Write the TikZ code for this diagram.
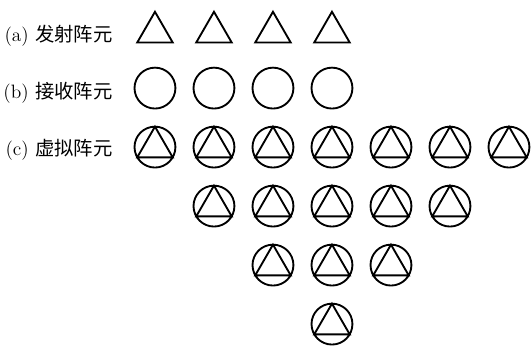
\documentclass[tikz,border=0pt]{standalone}
\usepackage{fontspec}
\newfontfamily\cjk{Noto Sans CJK SC}
\newcommand{\elemr}{0.52}

\begin{document}
\begin{tikzpicture}[line width=1.35pt,
    lbl/.style={anchor=east,font=\fontsize{14}{16}\selectfont}]
  \useasboundingbox (0,0) rectangle (13.5,8.9);
  % row labels
  \node[lbl] (tx) at (3.0,7.98) {(a) {\cjk 发射阵元}};
  \node[lbl] (rx) at (3.0,6.53) {(b) {\cjk 接收阵元}};
  \node[lbl] (va) at (3.0,5.08) {(c) {\cjk 虚拟阵元}};
  % transmit elements
  \foreach \i in {0,...,3}
    \draw[shift={(3.94+1.5*\i,8.08)}] (90:\elemr) -- (210:\elemr) -- (330:\elemr) -- cycle;
  % receive elements
  \foreach \i in {0,...,3}
    \draw (3.94+1.5*\i,6.66) circle (\elemr);
  % virtual elements, one row less on each side going down
  \foreach \k in {0,...,3} {
    \pgfmathtruncatemacro{\last}{6-\k}
    \foreach \i in {\k,...,\last} {
      \draw[shift={(3.94+1.5*\i,5.16-1.5*\k)}] (0,0) circle (\elemr)
        (90:\elemr) -- (210:\elemr) -- (330:\elemr) -- cycle;
    }
  }
\end{tikzpicture}
\end{document}
